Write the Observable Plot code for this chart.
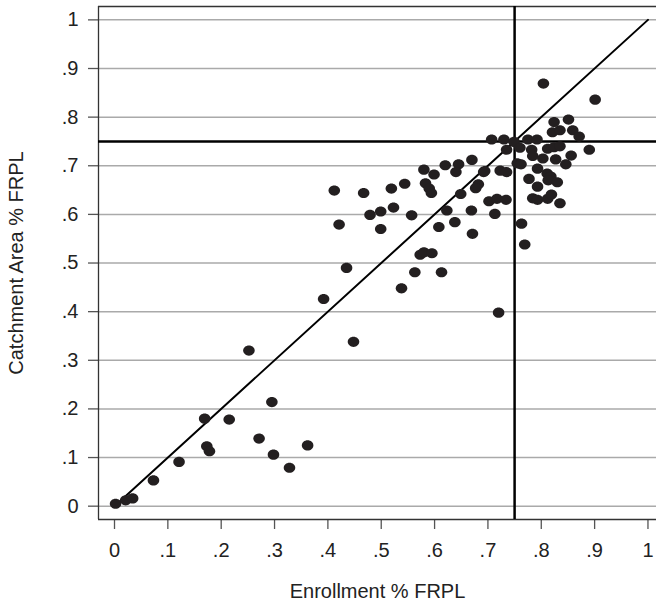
<!DOCTYPE html>
<html>
<head>
<meta charset="utf-8">
<script src="https://cdn.jsdelivr.net/npm/d3@7"></script>
<script src="https://cdn.jsdelivr.net/npm/@observablehq/plot@0.6"></script>
<style>
  html, body { margin: 0; padding: 0; background: #fff; }
  svg { display: block; }
</style>
</head>
<body>
<div id="chart"></div>
<script>
// Enrollment % FRPL (x) and Catchment Area % FRPL (y) per school
const enrollment = [
  0.002, 0.021, 0.034, 0.073, 0.121, 0.169, 0.173, 0.178, 0.215, 0.252, 0.271, 0.295, 0.298, 0.328, 0.362, 0.392, 0.448, 0.720,
  0.412, 0.467, 0.519, 0.544, 0.580, 0.599, 0.620, 0.645, 0.640, 0.670, 0.583, 0.590, 0.594, 0.649, 0.682, 0.677, 0.692,
  0.479, 0.499, 0.523, 0.557, 0.623, 0.669, 0.421, 0.499, 0.608, 0.638, 0.671, 0.573, 0.580, 0.595, 0.435, 0.563, 0.613, 0.538,
  0.804, 0.901, 0.824, 0.851, 0.821, 0.835, 0.859, 0.871, 0.707, 0.730, 0.749, 0.775, 0.792, 0.735, 0.760, 0.782, 0.812, 0.824,
  0.835, 0.890, 0.694, 0.723, 0.735, 0.755, 0.762, 0.784, 0.803, 0.827, 0.856, 0.846, 0.793, 0.777, 0.811, 0.818, 0.813, 0.830,
  0.793, 0.702, 0.717, 0.734, 0.784, 0.793, 0.812, 0.819, 0.835, 0.713, 0.763, 0.769
];
const catchment = [
  0.005, 0.012, 0.016, 0.053, 0.091, 0.180, 0.123, 0.113, 0.178, 0.320, 0.139, 0.214, 0.106, 0.079, 0.125, 0.426, 0.338, 0.398,
  0.649, 0.644, 0.653, 0.663, 0.692, 0.682, 0.701, 0.703, 0.687, 0.712, 0.664, 0.653, 0.644, 0.642, 0.662, 0.654, 0.687,
  0.599, 0.606, 0.614, 0.598, 0.608, 0.608, 0.579, 0.570, 0.574, 0.584, 0.560, 0.517, 0.522, 0.520, 0.490, 0.481, 0.481, 0.448,
  0.869, 0.836, 0.790, 0.795, 0.769, 0.773, 0.773, 0.760, 0.754, 0.754, 0.749, 0.754, 0.754, 0.733, 0.737, 0.733, 0.735, 0.738,
  0.740, 0.733, 0.689, 0.690, 0.687, 0.705, 0.703, 0.720, 0.715, 0.713, 0.721, 0.703, 0.694, 0.673, 0.684, 0.678, 0.670, 0.666,
  0.657, 0.627, 0.632, 0.630, 0.633, 0.630, 0.632, 0.641, 0.623, 0.601, 0.581, 0.538
];

const tickValues = [0, 0.1, 0.2, 0.3, 0.4, 0.5, 0.6, 0.7, 0.8, 0.9, 1];
const tickLabels = ["0", ".1", ".2", ".3", ".4", ".5", ".6", ".7", ".8", ".9", "1"];
const threshold = [0.75];
const diagonal = [0, 1];
const xDomain = [-0.03, 1.016];
const yDomain = [-0.0274, 1.0275];
const xTitle = "Enrollment % FRPL";
const yTitle = "Catchment Area % FRPL";

const points = enrollment.map((e, i) => ({x: e, y: catchment[i]}));
const fmt = v => tickLabels[tickValues.findIndex(t => Math.abs(t - v) < 1e-9)];

// slightly wide elliptical marker, as in the source figure
const ellipse = {
  draw(context, size) {
    const r = Math.sqrt(size / Math.PI);
    const rx = r * 1.07, ry = r * 0.94, k = 0.5523;
    context.moveTo(rx, 0);
    context.bezierCurveTo(rx, k * ry, k * rx, ry, 0, ry);
    context.bezierCurveTo(-k * rx, ry, -rx, k * ry, -rx, 0);
    context.bezierCurveTo(-rx, -k * ry, -k * rx, -ry, 0, -ry);
    context.bezierCurveTo(k * rx, -ry, rx, -k * ry, rx, 0);
    context.closePath();
  }
};

const ink = "#231f20";
const fs = 20;
const chart = Plot.plot({
  width: 656,
  height: 604,
  marginLeft: 98,
  marginRight: 0,
  marginTop: 6,
  marginBottom: 85,
  style: {fontFamily: "'Liberation Sans', Arial, Helvetica, sans-serif", fontSize: fs + "px", color: "#222", background: "#fff"},
  x: {domain: xDomain},
  y: {domain: yDomain},
  marks: [
    Plot.ruleY(tickValues, {stroke: "#aaaaaa", strokeWidth: 1.5}),
    Plot.axisY({ticks: tickValues, tickFormat: fmt, tickSize: 10, tickPadding: 10, fontSize: fs, label: null, stroke: "#555", strokeWidth: 1.3}),
    Plot.axisX({ticks: tickValues, tickFormat: fmt, tickSize: 10, tickPadding: 13, fontSize: fs, label: null, stroke: "#555", strokeWidth: 1.3}),
    Plot.ruleX([xDomain[0]], {stroke: "#333", strokeWidth: 1.3}),
    Plot.ruleY(yDomain, {stroke: "#333", strokeWidth: 1.3}),
    Plot.ruleX(threshold, {stroke: "#000", strokeWidth: 2.5}),
    Plot.ruleY(threshold, {stroke: "#000", strokeWidth: 2.5}),
    Plot.line(diagonal, {x: d => d, y: d => d, stroke: "#000", strokeWidth: 2}),
    Plot.dot(points, {x: "x", y: "y", r: 5.4, symbol: ellipse, fill: ink, stroke: "none"}),
    Plot.text([xTitle], {text: d => d, frameAnchor: "bottom", lineAnchor: "middle", dy: 72, fontSize: fs, fill: "#222"}),
    Plot.text([yTitle], {text: d => d, frameAnchor: "left", textAnchor: "middle", lineAnchor: "middle", dx: -82, rotate: -90, fontSize: fs, fill: "#222"})
  ]
});
document.getElementById("chart").appendChild(chart);
</script>
</body>
</html>
